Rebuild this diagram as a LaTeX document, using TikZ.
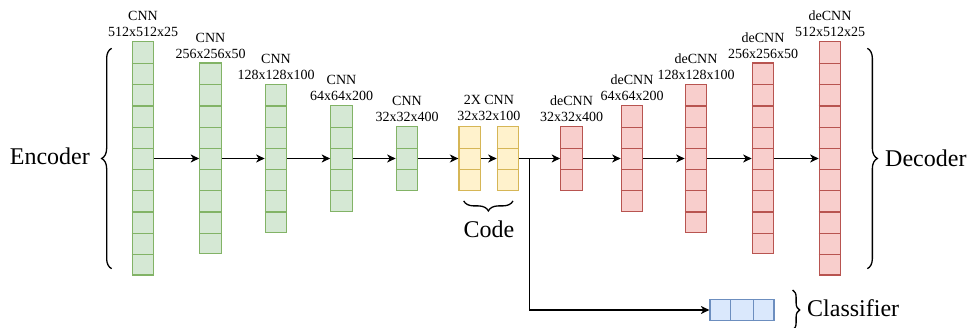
\documentclass[tikz,border=0pt]{standalone}
\usepackage{fontspec}
\setmainfont{Liberation Serif}
\usetikzlibrary{positioning,calc,arrows.meta,decorations.pathreplacing}

\definecolor{encfill}{HTML}{D5E8D4}
\definecolor{encdraw}{HTML}{82B366}
\definecolor{codfill}{HTML}{FFF2CC}
\definecolor{coddraw}{HTML}{D6B656}
\definecolor{decfill}{HTML}{F8CECC}
\definecolor{decdraw}{HTML}{B85450}
\definecolor{clsfill}{HTML}{DAE8FC}
\definecolor{clsdraw}{HTML}{6C8EBF}

\tikzset{
  layer/.style={minimum width=21.5pt, inner sep=0pt, line width=1.2pt},
  enc/.style={draw=encdraw, fill=encfill},
  enc line/.style={draw=encdraw, line width=1.2pt},
  cod/.style={draw=coddraw, fill=codfill},
  cod line/.style={draw=coddraw, line width=1.2pt},
  dec/.style={draw=decdraw, fill=decfill},
  dec line/.style={draw=decdraw, line width=1.2pt},
  lbl/.style={align=center, inner sep=0pt, font=\fontsize{14}{16}\selectfont},
  big/.style={inner sep=0pt, font=\fontsize{24}{28}\selectfont},
  brace/.style={decorate, decoration={brace, amplitude=10pt}, line width=1.3pt}
}

\begin{document}
\begin{tikzpicture}[x=1pt, y=-1pt, >={Stealth[length=8.5pt, width=8pt, inset=2.5pt]}]
\useasboundingbox (0,0) rectangle (969,328);

% layers of the network
\foreach \nm/\x/\n/\c in {e1/143/11/enc, e2/210.5/9/enc, e3/276/7/enc, e4/341.5/5/enc,
    e5/407/3/enc, y1/469.7/3/cod, y2/508/3/cod, d1/571.5/3/dec, d2/632/5/dec,
    d3/696/7/dec, d4/763/9/dec, d5/830/11/dec} {
  \node [layer, \c, minimum height=\n*21.2pt] (\nm) at (\x,158.5) {};
  \pgfmathtruncatemacro\m{\n-1}
  \foreach \k in {1,...,\m}
    \draw [\c\space line] ([yshift=\k*21.2pt]\nm.south west) -- ([yshift=\k*21.2pt]\nm.south east);
}

% classifier
\node [layer, draw=clsdraw, fill=clsfill, minimum width=64pt, minimum height=21.3pt] (cls) at (742,310) {};
\draw [draw=clsdraw, line width=1.2pt] ([xshift=21.3pt]cls.south west) -- ([xshift=21.3pt]cls.north west)
  ([xshift=-21.3pt]cls.south east) -- ([xshift=-21.3pt]cls.north east);

% labels
\node [lbl, above=4pt of e1] (l_e1) {CNN\\512x512x25};
\node [lbl, above=4pt of e2] (l_e2) {CNN\\256x256x50};
\node [lbl, above=4pt of e3] (l_e3) {CNN\\128x128x100};
\node [lbl, above=4pt of e4] (l_e4) {CNN\\64x64x200};
\node [lbl, above=4pt of e5] (l_e5) {CNN\\32x32x400};
\coordinate (mid) at ($(y1.north)!0.5!(y2.north)$);
\node [lbl, above=5pt of mid] (l_y) {2X CNN\\32x32x100};
\node [lbl, above=4pt of d1] (l_d1) {deCNN\\32x32x400};
\node [lbl, above=4pt of d2] (l_d2) {deCNN\\64x64x200};
\node [lbl, above=4pt of d3] (l_d3) {deCNN\\128x128x100};
\node [lbl, above=4pt of d4] (l_d4) {deCNN\\256x256x50};
\node [lbl, above=4pt of d5] (l_d5) {deCNN\\512x512x25};

% connections
\coordinate (split) at ([xshift=10pt]y2.east);
\path [->, line width=1.3pt]
(e1) edge (e2)
(e2) edge (e3)
(e3) edge (e4)
(e4) edge (e5)
(e5) edge (y1)
(y1) edge (y2)
(y2) edge (d1)
(d1) edge (d2)
(d2) edge (d3)
(d3) edge (d4)
(d4) edge (d5);
\draw [->, line width=1.3pt] (split) |- (cls);

% braces and captions
\draw [brace] ([xshift=-20pt, yshift=7pt]e1.south west) -- ([xshift=-20pt, yshift=-7pt]e1.north west);
\draw [brace] ([xshift=26pt, yshift=-7pt]d5.north east) -- ([xshift=26pt, yshift=7pt]d5.south east);
\draw [brace] ([xshift=5pt, yshift=-10pt]y2.south) -- ([xshift=-6pt, yshift=-10pt]y1.south);
\draw [brace, decoration={amplitude=7pt}] ([xshift=18pt, yshift=20pt]cls.east) -- ([xshift=18pt, yshift=-20pt]cls.east);
\node [big, anchor=base east] (enc) at (90,165) {Encoder};
\node [big, anchor=base west] (dec) at (885,166.5) {Decoder};
\node [big, anchor=base] (code) at (489,238) {Code};
\node [big, anchor=base west] (clf) at (807,316.5) {Classifier};
\end{tikzpicture}
\end{document}
